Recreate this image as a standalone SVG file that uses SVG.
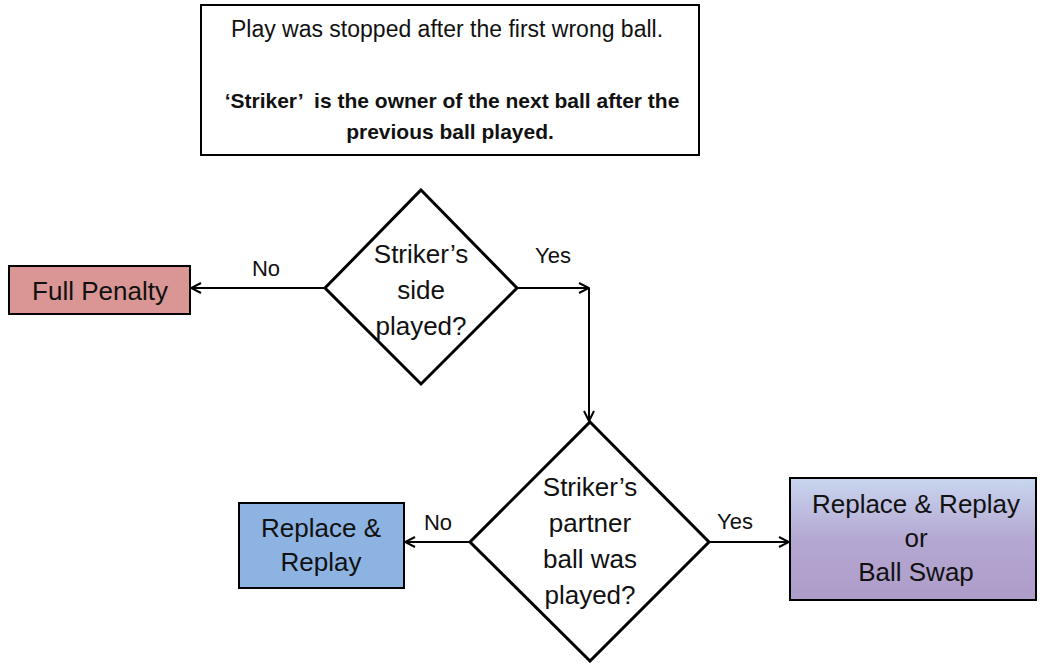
<svg xmlns="http://www.w3.org/2000/svg" width="1041" height="663" viewBox="0 0 1041 663">
  <defs>
    <style>
      .box { stroke: #000; stroke-width: 2; }
      .decision { fill: #fff; stroke: #000; stroke-width: 3; stroke-linejoin: miter; }
      .link { fill: none; stroke: #000; stroke-width: 2; }
      .t { font-family: "Liberation Sans", Arial, sans-serif; fill: #111; text-anchor: middle; }
      .node { font-size: 26px; }
      .lbl { font-size: 22px; }
      .note { font-size: 23px; }
      .bold { font-weight: bold; font-size: 21px; }
    </style>
    <marker id="open" viewBox="0 0 12 12" refX="11" refY="6" markerWidth="12" markerHeight="12" markerUnits="userSpaceOnUse" orient="auto">
      <path d="M1,1 L11,6 L1,11" fill="none" stroke="#000" stroke-width="2"/>
    </marker>
    <linearGradient id="purpleFill" x1="0" y1="0" x2="0" y2="1">
      <stop offset="0" stop-color="#c9d6ef"/>
      <stop offset="0.5" stop-color="#b4a8d2"/>
      <stop offset="1" stop-color="#ae9cc9"/>
    </linearGradient>
  </defs>
  <rect width="1041" height="663" fill="#fff"/>

  <g id="note">
    <rect x="201" y="5" width="498" height="150" fill="#fff" class="box"/>
    <text class="t note" x="447" y="37">Play was stopped after the first wrong ball.</text>
    <text class="t bold" x="452" y="108" xml:space="preserve">‘Striker’  is the owner of the next ball after the</text>
    <text class="t bold" x="450" y="139">previous ball played.</text>
  </g>

  <g id="connectors">
    <line class="link" x1="325" y1="288" x2="191" y2="288" marker-end="url(#open)"/>
    <line class="link" x1="517" y1="288" x2="589" y2="288" marker-end="url(#open)"/>
    <line class="link" x1="589" y1="288" x2="589" y2="421" marker-end="url(#open)"/>
    <line class="link" x1="470" y1="542" x2="405" y2="542" marker-end="url(#open)"/>
    <line class="link" x1="709" y1="542" x2="789" y2="542" marker-end="url(#open)"/>
    <text class="t lbl" x="266" y="276">No</text>
    <text class="t lbl" x="553" y="263">Yes</text>
    <text class="t lbl" x="438" y="530">No</text>
    <text class="t lbl" x="735" y="529">Yes</text>
  </g>

  <g id="side-played">
    <polygon class="decision" points="421,190 517,288 421,384 325,288"/>
    <text class="t node" x="421" y="263">Striker’s</text>
    <text class="t node" x="421" y="299">side</text>
    <text class="t node" x="421" y="335">played?</text>
  </g>

  <g id="full-penalty">
    <rect class="box" x="9" y="266" width="181" height="48" fill="#d99694"/>
    <text class="t node" x="100" y="300">Full Penalty</text>
  </g>

  <g id="partner-played">
    <polygon class="decision" points="590,422 709,542 590,661 470,542"/>
    <text class="t node" x="590" y="496">Striker’s</text>
    <text class="t node" x="590" y="532">partner</text>
    <text class="t node" x="590" y="568">ball was</text>
    <text class="t node" x="590" y="604">played?</text>
  </g>

  <g id="replace-replay">
    <rect class="box" x="239" y="503" width="165" height="85" fill="#8db3e2"/>
    <text class="t node" x="321" y="537">Replace &amp;</text>
    <text class="t node" x="321" y="571">Replay</text>
  </g>

  <g id="replace-or-swap">
    <rect class="box" x="790" y="478" width="246" height="122" fill="url(#purpleFill)"/>
    <text class="t node" x="916" y="513">Replace &amp; Replay</text>
    <text class="t node" x="916" y="547">or</text>
    <text class="t node" x="916" y="581">Ball Swap</text>
  </g>
</svg>
